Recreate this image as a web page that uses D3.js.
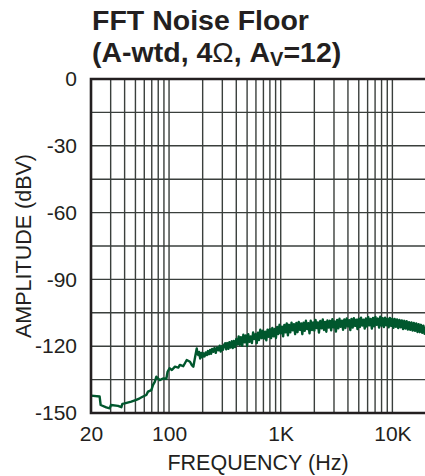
<!DOCTYPE html>
<html>
<head>
<meta charset="utf-8">
<script src="https://cdn.jsdelivr.net/npm/d3@7"></script>
<style>
  body { margin: 0; background: #fff; }
  text { font-family: "Liberation Sans", Arial, sans-serif; fill: #231f20; }
</style>
</head>
<body>
<div id="chart"></div>
<script>
// tick labels / grid
const yTicks = [0, -30, -60, -90, -120, -150];
const yGrid = [-15, -30, -45, -60, -75, -90, -105, -120, -135];
const xTicks = [20, 100, 1000, 10000];
const xTickLabels = ['20', '100', '1K', '10K'];
const xGrid = [30, 40, 50, 60, 70, 80, 90, 100,
  200, 300, 400, 500, 600, 700, 800, 900, 1000,
  2000, 3000, 4000, 5000, 6000, 7000, 8000, 9000, 10000];

// noise floor: [Hz, dBV]
const lowBand = [
  [20, -142.2], [23.9, -142.6], [24.4, -146.4], [27.4, -147.5], [29.4, -147.9],
  [30.2, -146.4], [34.9, -146.8], [37.4, -147.4], [38.2, -145.9], [40.1, -145.7],
  [45.9, -144.9], [50.9, -144.1], [54.6, -143.4], [58.5, -142.6], [62.6, -141.9],
  [64.8, -140.4], [69.4, -139.7], [71.9, -137.4], [74.5, -136.0], [77, -133.7],
  [79.7, -134.5], [82.5, -135.2], [88.3, -134.5], [94.6, -134.6], [97, -131.5],
  [101, -129.9], [106, -130.7], [113, -129.2], [121, -129.6], [125, -128.4],
  [134, -129.0], [144, -126.2], [154, -127.0], [160, -128.5], [165, -129.2],
  [171, -125.0], [177, -121.0]
];
const midBand = [
  [180, -123.5], [183, -124.0], [186, -122.6], [190, -125.5], [195, -123.0],
  [199, -125.0], [203, -123.2], [208, -124.6], [213, -122.8], [218, -124.0],
  [223, -122.2], [228, -123.6], [233, -121.7], [238, -123.4], [243, -121.2],
  [249, -122.5], [255, -120.8], [262, -123.0], [269, -120.6], [277, -121.8],
  [284, -119.8], [290, -122.4], [297, -120.0], [304, -121.6], [311, -119.4],
  [318, -118.7], [325, -121.4], [332, -118.6], [340, -121.2], [347, -118.2],
  [355, -120.6], [365, -117.8], [372, -120.8], [380, -117.6], [390, -120.4],
  [400, -116.8], [410, -119.2]
];
const highBand = [
  [420, -115.6], [430, -119.4], [440, -116.0], [452, -119.8], [463, -114.8],
  [475, -118.2], [487, -115.2], [500, -119.9], [512, -114.6], [525, -118.0],
  [538, -115.6], [552, -118.6], [566, -113.8], [580, -116.8], [595, -114.6],
  [610, -118.6], [625, -113.9], [640, -117.2], [656, -112.6], [673, -116.4],
  [690, -113.1], [707, -116.6], [725, -113.5], [743, -117.4], [762, -112.6],
  [781, -115.8], [800, -112.4], [820, -116.4], [841, -111.8], [862, -115.6],
  [884, -112.3], [906, -116.3], [929, -111.4], [952, -114.5], [976, -110.4],
  [1000, -114.2], [1025, -111.2], [1051, -115.6], [1077, -110.5], [1104, -113.8],
  [1132, -109.8], [1160, -115.1], [1189, -110.4], [1219, -113.8], [1250, -109.4],
  [1281, -112.9], [1313, -110.1], [1346, -114.6], [1380, -109.6], [1414, -113.7],
  [1450, -109.1], [1486, -112.6], [1523, -109.8], [1561, -114.6], [1600, -109.4],
  [1640, -113.1], [1681, -108.6], [1723, -112.3], [1766, -109.7], [1811, -114.2],
  [1856, -108.6], [1902, -112.7], [1950, -109.3], [2000, -113.0], [2050, -108.2],
  [2100, -111.9], [2150, -109.3], [2200, -113.9], [2260, -108.7], [2320, -112.0],
  [2380, -108.0], [2440, -112.7], [2500, -109.1], [2560, -113.5], [2620, -108.4],
  [2690, -111.6], [2760, -108.6], [2830, -112.9], [2900, -107.9], [2970, -111.5],
  [3040, -108.9], [3120, -113.4], [3200, -108.2], [3280, -112.0], [3360, -107.7],
  [3440, -111.3], [3530, -108.5], [3620, -112.6], [3710, -108.0], [3800, -111.8],
  [3900, -107.5], [4000, -111.1], [4100, -108.3], [4200, -112.8], [4300, -107.8],
  [4410, -111.6], [4520, -107.4], [4630, -110.9], [4750, -108.1], [4870, -112.3],
  [4990, -107.6], [5110, -111.4], [5240, -107.2], [5370, -110.7], [5510, -108.1],
  [5650, -112.1], [5790, -107.5], [5930, -111.2], [6080, -107.0], [6230, -110.6],
  [6390, -107.8], [6550, -112.1], [6710, -107.3], [6880, -111.1], [7050, -106.9],
  [7230, -110.4], [7410, -107.6], [7600, -111.6], [7790, -106.8], [7980, -110.8],
  [8180, -107.4], [8390, -111.4], [8600, -107.2], [8810, -110.6], [9030, -107.6],
  [9260, -111.5], [9490, -107.3], [9730, -110.9], [9970, -107.6], [10220, -111.7],
  [10480, -107.8], [10740, -111.3], [11010, -108.0], [11280, -111.9], [11570, -108.2],
  [11860, -111.5], [12150, -108.4], [12460, -112.3], [12770, -108.6], [13090, -112.1],
  [13420, -108.8], [13750, -112.5], [14090, -109.2], [14450, -112.6], [14810, -109.3],
  [15180, -113.0], [15560, -109.6], [15950, -113.1], [16350, -109.8], [16760, -113.6],
  [17180, -110.1], [17610, -113.7], [18050, -110.4], [18500, -114.0], [18960, -110.8],
  [19430, -114.4], [19920, -111.6], [20000, -113.0]
];
const noise = lowBand.concat(midBand, highBand);

const W = 425, H = 476;
const mLeft = 91, mRight = 426, mTop = 79, mBottom = 413;

const svg = d3.select('#chart').append('svg')
  .attr('width', W)
  .attr('height', H);

const x = d3.scaleLog().domain([20, 20000]).range([mLeft, mRight]);
const y = d3.scaleLinear().domain([-150, 0]).range([mBottom, mTop]);

// title
const title = svg.append('text')
  .attr('x', 92)
  .attr('font-size', '28.5px')
  .attr('font-weight', 'bold');
title.append('tspan').attr('x', 92).attr('y', 30).text('FFT Noise Floor');
const line2 = title.append('tspan').attr('x', 92).attr('y', 62);
line2.append('tspan').text('(A-wtd, 4');
line2.append('tspan').attr('font-weight', 'normal').text('\u03A9');
line2.append('tspan').text(', A');
line2.append('tspan').attr('font-size', '20px').attr('dy', 4).text('V');
line2.append('tspan').attr('dy', -4).text('=12)');

// grid
const grid = svg.append('g')
  .attr('stroke', '#3a3f3c')
  .attr('stroke-width', 1.4);

grid.selectAll('.hgrid')
  .data(yGrid)
  .enter()
  .append('line')
  .attr('x1', mLeft).attr('x2', mRight)
  .attr('y1', d => y(d)).attr('y2', d => y(d));

grid.selectAll('.vgrid')
  .data(xGrid)
  .enter()
  .append('line')
  .attr('x1', d => x(d)).attr('x2', d => x(d))
  .attr('y1', mTop).attr('y2', mBottom);

// curve
const line = d3.line()
  .x(d => x(d[0]))
  .y(d => y(d[1]));

svg.append('path')
  .datum(noise)
  .attr('fill', 'none')
  .attr('stroke', '#00572d')
  .attr('stroke-width', 2.4)
  .attr('stroke-linejoin', 'round')
  .attr('d', line);

// frame (top, left, bottom)
svg.append('path')
  .attr('d', 'M' + mRight + ',' + mTop + 'H' + mLeft + 'V' + mBottom + 'H' + mRight)
  .attr('fill', 'none')
  .attr('stroke', '#231f20')
  .attr('stroke-width', 2.6);

// axes
const yAxis = d3.axisLeft(y).tickValues(yTicks).tickSize(0).tickPadding(14)
  .tickFormat(d => String(d));
const yg = svg.append('g')
  .attr('transform', 'translate(' + mLeft + ',0)')
  .call(yAxis);
yg.select('.domain').remove();
yg.selectAll('text')
  .attr('font-size', '21px')
  .attr('font-family', '"Liberation Sans", Arial, sans-serif')
  .attr('fill', '#231f20');

const xAxis = d3.axisBottom(x).tickValues(xTicks).tickSize(0).tickPadding(13)
  .tickFormat((d, i) => xTickLabels[i]);
const xg = svg.append('g')
  .attr('transform', 'translate(0,' + mBottom + ')')
  .call(xAxis);
xg.select('.domain').remove();
xg.selectAll('text')
  .attr('font-size', '21px')
  .attr('font-family', '"Liberation Sans", Arial, sans-serif')
  .attr('fill', '#231f20');

svg.append('text')
  .attr('x', 258)
  .attr('y', 470)
  .attr('text-anchor', 'middle')
  .attr('font-size', '21.5px')
  .text('FREQUENCY (Hz)');

svg.append('text')
  .attr('transform', 'translate(31,' + ((mTop + mBottom) / 2) + ') rotate(-90)')
  .attr('text-anchor', 'middle')
  .attr('font-size', '21.5px')
  .text('AMPLITUDE (dBV)');
</script>
</body>
</html>
